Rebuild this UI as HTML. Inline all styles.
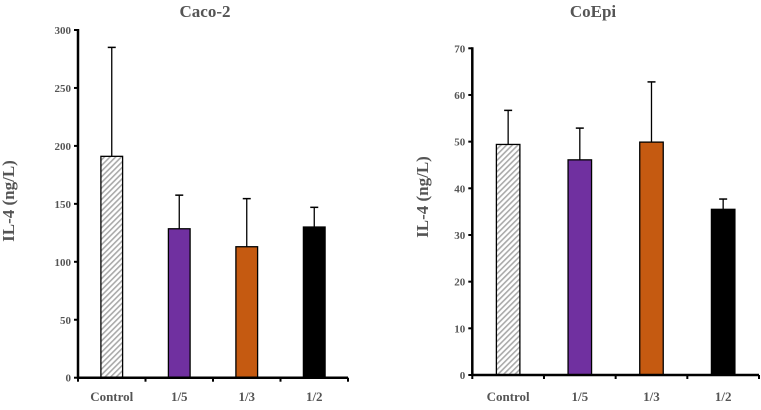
<!DOCTYPE html>
<html><head><meta charset="utf-8"><style>
html,body{margin:0;padding:0;background:#fff;}
svg text{font-family:"Liberation Serif",serif;font-weight:bold;fill:#555;}
</style></head><body>
<svg id="chart" width="761" height="405" viewBox="0 0 761 405" xmlns="http://www.w3.org/2000/svg">
<defs>
<pattern id="hatch" patternUnits="userSpaceOnUse" width="4" height="4" patternTransform="rotate(45)">
<rect width="4" height="4" fill="#fff"/><rect width="1.6" height="4" fill="#aaa"/>
</pattern>
</defs>
</svg>
<script>
const categories = ["Control","1/5","1/3","1/2"];
const cacoValues = [191, 128.5, 113, 130];
const cacoErrTops = [285, 157.5, 154.5, 147];
const coepiValues = [49.4, 46.1, 49.9, 35.5];
const coepiErrTops = [56.7, 52.9, 62.8, 37.7];
const cacoTicks = [0,50,100,150,200,250,300];
const coepiTicks = [0,10,20,30,40,50,60,70];
const fills = ["url(#hatch)","#7030a0","#c55a11","#000"];

const svg = document.getElementById('chart');
const NS = "http://www.w3.org/2000/svg";
function mk(tag, attrs, parent){
  const e = document.createElementNS(NS, tag);
  for (const k in attrs) e.setAttribute(k, attrs[k]);
  (parent||svg).appendChild(e); return e;
}

function panel(cfg){
  const g = mk('g', {});
  
  
  const yS = v => cfg.y0 - (v / cfg.max) * (cfg.y0 - cfg.yTop);
  const n = categories.length;
  const step = (cfg.xEnd - cfg.x0) / n;
  const xS = i => cfg.x0 + step * (i + 0.5);
  const t = mk('text', {x: cfg.titleX, y: cfg.titleY, 'text-anchor':'middle', 'font-size':17}, g);
  t.textContent = cfg.title;
  
  
  const yt = mk('text', {x: 0, y: 0, 'text-anchor':'middle', 'font-size':17,
    transform:`translate(${cfg.yTitleX},${cfg.yTitleY}) rotate(-90)`}, g);
  yt.textContent = "IL-4 (ng/L)";
  
  
  categories.forEach((c, i) => {
    const cx = xS(i), v = cfg.values[i], e = cfg.errs[i];
    const eb = mk('g', {}, g);
    
    
    mk('line', {x1:cx, x2:cx, y1:yS(v), y2:yS(e), stroke:'#000', 'stroke-width':1.3}, eb);
    mk('line', {x1:cx-4, x2:cx+4, y1:yS(e), y2:yS(e), stroke:'#000', 'stroke-width':1.5}, eb);
    const r = mk('rect', {x: cx - cfg.bw/2, y: yS(v), width: cfg.bw, height: cfg.y0 - yS(v),
      fill: fills[i], stroke:'#000', 'stroke-width':1.3}, g);
    
    
    const lb = mk('text', {x: cx, y: 401, 'text-anchor':'middle', 'font-size':13}, g);
    lb.textContent = c;
    
    
  });
  const ya = mk('line', {x1:cfg.x0, x2:cfg.x0, y1:cfg.yTop-1, y2:cfg.y0+1, stroke:'#000', 'stroke-width':2.5}, g);
  
  
  const xa = mk('line', {x1:cfg.x0, x2:cfg.xEnd, y1:cfg.y0, y2:cfg.y0, stroke:'#000', 'stroke-width':2.5}, g);
  
  
  for (let i = 0; i <= n; i++){
    const x = cfg.x0 + step * i;
    mk('line', {x1:x, x2:x, y1:cfg.y0, y2:cfg.y0+4, stroke:'#000', 'stroke-width':2}, g);
  }
  cfg.ticks.forEach(tv => {
    const y = yS(tv);
    mk('line', {x1:cfg.x0-4, x2:cfg.x0, y1:y, y2:y, stroke:'#000', 'stroke-width':2}, g);
    const tl = mk('text', {x: cfg.x0-7, y: y+4, 'text-anchor':'end', 'font-size':11}, g);
    tl.textContent = tv;
    
    
  });
}

panel({name:'caco2-chart', title:'Caco-2', titleX:205, titleY:17, x0:78, xEnd:348, y0:377.7, yTop:30, max:300,
  bw:21.7, values:cacoValues, errs:cacoErrTops, ticks:cacoTicks, yTitleX:14, yTitleY:201});
panel({name:'coepi-chart', title:'CoEpi', titleX:593, titleY:17, x0:472.3, xEnd:759, y0:375, yTop:48.3, max:70,
  bw:23.5, values:coepiValues, errs:coepiErrTops, ticks:coepiTicks, yTitleX:428, yTitleY:197});
</script>
</body></html>
